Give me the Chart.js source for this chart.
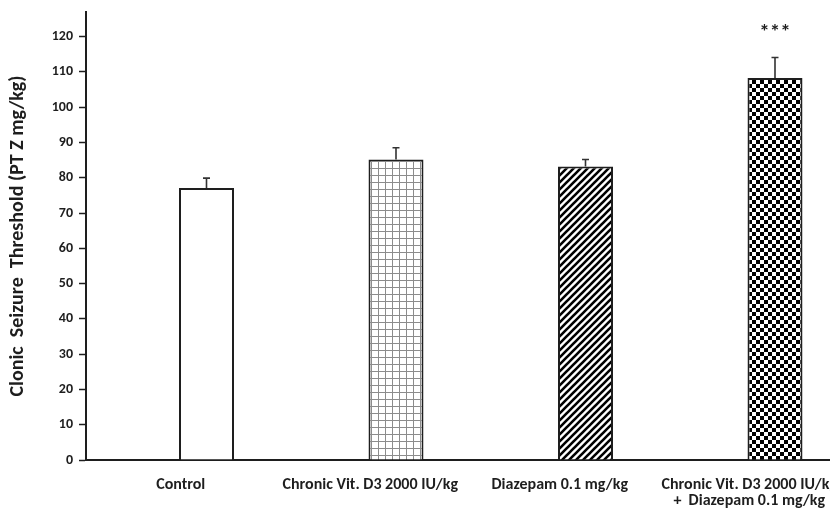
<!DOCTYPE html>
<html><head><meta charset="utf-8">
<script src="https://cdn.jsdelivr.net/npm/chart.js@4"></script>
<style>
html,body{margin:0;padding:0;overflow:hidden;background:#fff;width:830px;height:509px}
#wrap{width:850px;height:509px;position:relative}
</style></head><body>
<div id="wrap"><canvas id="c" width="850" height="509"></canvas></div>
<script>
// ---- data ----
const categories = ['Control', 'Chronic Vit. D3 2000 IU/kg', 'Diazepam 0.1 mg/kg', ['Chronic Vit. D3 2000 IU/kg', '+  Diazepam 0.1 mg/kg']];
const means = [77.1, 85.2, 83.2, 108.3];
const sems = [2.8, 3.3, 2.0, 5.8];
const significance = ['', '', '', '***'];
const yMin = 0;
const yMax = 127;
const yStep = 10;
const yTitle = 'Clonic  Seizure  Threshold (PT Z mg/kg)';

// ---- styles ----
const FONT = 'Carlito, Lato, "Open Sans", sans-serif';
const INK = '#1e1e1e';

function makePattern(size, draw) {
  const c = document.createElement('canvas');
  c.width = size; c.height = size;
  const g = c.getContext('2d');
  g.fillStyle = '#fff'; g.fillRect(0, 0, size, size);
  draw(g, size);
  return document.getElementById('c').getContext('2d').createPattern(c, 'repeat');
}
const gridPat = makePattern(7, (g, s) => {
  g.fillStyle = '#8c8c8c';
  g.fillRect(0, 0, s, 1);
  g.fillRect(0, 0, 1, s);
});
const diagPat = makePattern(7, (g, s) => {
  g.strokeStyle = '#000'; g.lineWidth = 2.6; g.lineCap = 'square';
  const seg = (x0, y0, x1, y1) => { g.beginPath(); g.moveTo(x0, y0); g.lineTo(x1, y1); g.stroke(); };
  seg(0, s, s, 0);
  seg(-1, 1, 1, -1);
  seg(s - 1, s + 1, s + 1, s - 1);
});
const checkPat = makePattern(8, (g, s) => {
  g.fillStyle = '#000';
  g.fillRect(0, 0, s / 2, s / 2);
  g.fillRect(s / 2, s / 2, s / 2, s / 2);
});
const fills = ['#ffffff', gridPat, diagPat, checkPat];

const errorBars = {
  id: 'errorBars',
  afterDatasetsDraw(chart) {
    const meta = chart.getDatasetMeta(1);
    const y = chart.scales.y;
    const ctx = chart.ctx;
    ctx.save();
    ctx.strokeStyle = '#333';
    ctx.lineWidth = 1.6;
    meta.data.forEach((bar, i) => {
      const yb = y.getPixelForValue(means[i]);
      const ye = y.getPixelForValue(means[i] + sems[i]);
      ctx.beginPath();
      ctx.moveTo(bar.x, yb); ctx.lineTo(bar.x, ye);
      ctx.moveTo(bar.x - 3.5, ye); ctx.lineTo(bar.x + 3.5, ye);
      ctx.stroke();
      if (significance[i]) {
        ctx.fillStyle = INK;
        ctx.font = 'bold 21px ' + FONT;
        ctx.textAlign = 'center';
        ctx.textBaseline = 'alphabetic';
        ctx.fillText(significance[i], bar.x, ye - 20);
      }
    });
    ctx.restore();
  }
};

new Chart(document.getElementById('c'), {
  type: 'bar',
  data: {
    labels: categories,
    datasets: [
      { label: 'spacer', data: categories.map(() => null) },
      {
        label: 'Threshold',
        data: means,
        backgroundColor: fills,
        borderColor: INK,
        borderWidth: 2,
        categoryPercentage: 0.5435,
        barPercentage: 1.068
      }
    ]
  },
  options: {
    responsive: false,
    animation: false,
    devicePixelRatio: 1,
    layout: { padding: { top: 12, right: 6, left: 0, bottom: 0 } },
    datasets: { bar: { categoryPercentage: 0.5435, barPercentage: 1.068 } },
    plugins: { legend: { display: false }, tooltip: { enabled: false } },
    scales: {
      x: {
        grid: { display: false, drawTicks: false },
        border: { display: true, color: INK, width: 2 },
        ticks: { color: INK, font: { family: FONT, size: 16, weight: 'bold', lineHeight: 1.0 }, padding: 17, maxRotation: 0, autoSkip: false },
        afterFit(s) { s.height = 49; s.paddingLeft = 0; s.paddingRight = 0; }
      },
      y: {
        min: yMin, max: yMax,
        grid: { display: true, drawOnChartArea: false, drawTicks: true, tickLength: 7, tickColor: INK, tickWidth: 1.5 },
        border: { display: true, color: INK, width: 2 },
        ticks: { stepSize: yStep, includeBounds: false, color: INK, padding: 6, font: { family: FONT, size: 14, weight: 'bold' } },
        title: { display: true, text: yTitle, color: INK, font: { family: FONT, size: 20, weight: 'bold' }, padding: { top: 6, bottom: 0 } },
        afterFit(s) { s.width = 86; s.paddingTop = 0; s.paddingBottom = 0; }
      }
    }
  },
  plugins: [errorBars]
});
</script>
</body></html>
